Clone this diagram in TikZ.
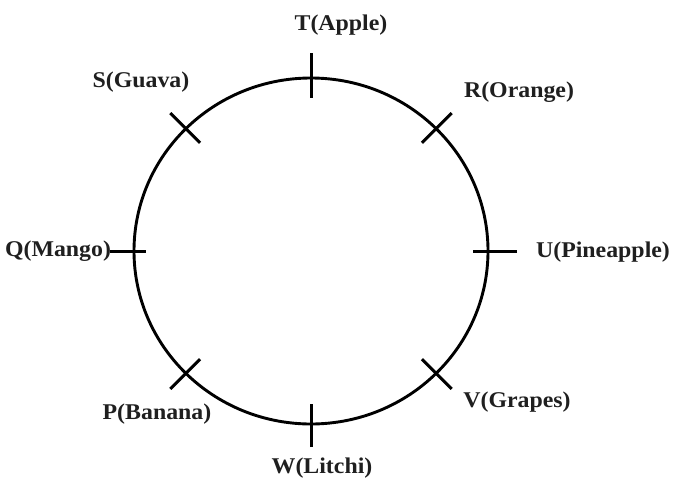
\documentclass[tikz,border=0pt]{standalone}
\usepackage{fontspec}
\setmainfont{Liberation Serif}[FakeStretch=1.06]
\usetikzlibrary{shapes.geometric,calc}
\begin{document}
\begin{tikzpicture}[x=1pt,y=-1pt,
  ring/.style={line width=2.9pt},
  tick/.style={line width=3pt},
  lbl/.style={font=\fontsize{22.5}{24}\selectfont\bfseries, inner sep=0pt, text=black!88}]
\useasboundingbox (0,0) rectangle (677,490);
\node[ellipse, draw, ring, minimum width=354pt, minimum height=346pt, inner sep=0pt, outer sep=0pt] (c) at (311,251) {};
\foreach \n/\a/\o/\i in {T/90/25/20,R/45/22/20,U/0/29/15,V/-45/22/20,W/-90/23/20,P/-135/22/20,Q/180/24/12,S/135/22/20}{
  \coordinate (\n o) at ($(311,251)+({cos(\a)*(177+\o)},{-sin(\a)*(173+\o)})$);
  \coordinate (\n i) at ($(311,251)+({cos(\a)*(177-\i)},{-sin(\a)*(173-\i)})$);
}
\foreach \n in {T,R,U,V,W,P,Q,S}{ \draw[tick] (\n o) -- (\n i); }
\node[lbl] (tl) at (341,25) {T(Apple)};
\node[lbl] (rl) at (519,92) {R(Orange)};
\node[lbl] (ul) at (603,252) {U(Pineapple)};
\node[lbl] (vl) at (517,402) {V(Grapes)};
\node[lbl] (wl) at (322,468) {W(Litchi)};
\node[lbl] (pl) at (157,414) {P(Banana)};
\node[lbl] (ql) at (58,251) {Q(Mango)};
\node[lbl] (sl) at (141,82) {S(Guava)};
\end{tikzpicture}
\end{document}
